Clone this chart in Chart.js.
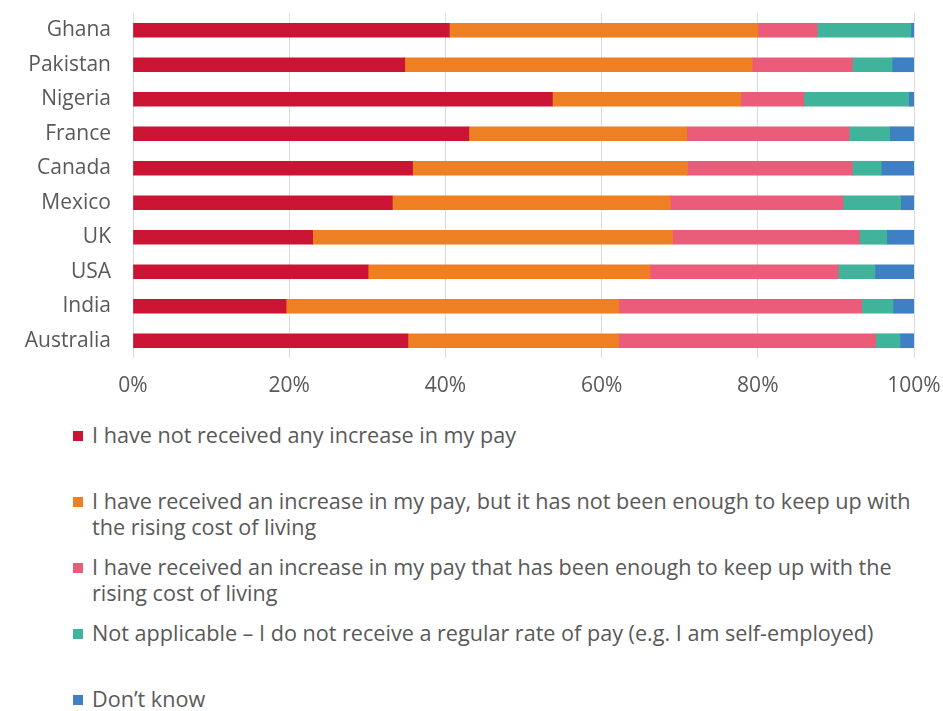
<!DOCTYPE html>
<html>
<head>
<meta charset="utf-8">
<script src="https://cdn.jsdelivr.net/npm/chart.js@4"></script>
<style>
    body { margin: 0; background: #fff; font-family: "Open Sans", sans-serif; }
    #wrap { position: relative; width: 943px; height: 403px; }
    #legendList { list-style: none; margin: 19px 0 0 0; padding: 0 0 0 73px; }
    #legendList li { display: flex; align-items: flex-start; height: 66px; }
    #legendList .box { flex: none; width: 10px; height: 10px; margin: 9px 9px 0 0; }
    #legendList .txt { width: 850px; font-size: 21.6px; line-height: 26px; color: #595959; white-space: pre-line; }
</style>
</head>
<body>
<div id="wrap"><canvas id="payChart"></canvas></div>
<ul id="legendList"></ul>
<script>
// Share of respondents per answer, by country (%)
var countries = ['Ghana', 'Pakistan', 'Nigeria', 'France', 'Canada', 'Mexico', 'UK', 'USA', 'India', 'Australia'];
var noIncrease = [40.5, 34.8, 53.7, 43.0, 35.8, 33.2, 23.0, 30.1, 19.6, 35.2];
var notEnough = [39.5, 44.5, 24.1, 27.9, 35.2, 35.6, 46.1, 36.1, 42.6, 27.0];
var enough = [7.6, 12.8, 8.1, 20.8, 21.1, 22.1, 23.9, 24.1, 31.1, 32.9];
var notApplicable = [12.0, 5.1, 13.4, 5.2, 3.7, 7.4, 3.5, 4.7, 4.0, 3.1];
var dontKnow = [0.4, 2.8, 0.7, 3.1, 4.2, 1.7, 3.5, 5.0, 2.7, 1.8];
var xTicks = [0, 20, 40, 60, 80, 100];

// legend labels, one array entry per printed line
var seriesLabels = [
    ['I have not received any increase in my pay'],
    ['I have received an increase in my pay, but it has not been enough to keep up with', 'the rising cost of living'],
    ['I have received an increase in my pay that has been enough to keep up with the', 'rising cost of living'],
    ['Not applicable \u2013 I do not receive a regular rate of pay (e.g. I am self-employed)'],
    ['Don\u2019t know']
];
var seriesColors = ['#CB1333', '#EE7F22', '#EA5C79', '#40B49A', '#3F7FC3'];

// Legend is built as HTML so the long labels can wrap
var htmlLegendPlugin = {
    id: 'htmlLegend',
    afterUpdate: function (chart) {
        var ul = document.getElementById('legendList');
        ul.innerHTML = '';
        var items = chart.options.plugins.legend.labels.generateLabels(chart);
        items.forEach(function (item) {
            var li = document.createElement('li');
            var box = document.createElement('span');
            box.className = 'box';
            box.style.background = item.fillStyle;
            var txt = document.createElement('span');
            txt.className = 'txt';
            txt.textContent = [].concat(item.text).join('\n');
            li.appendChild(box);
            li.appendChild(txt);
            ul.appendChild(li);
        });
    }
};

document.addEventListener('DOMContentLoaded', function () {
    var ctx = document.getElementById('payChart').getContext('2d');
    var values = [noIncrease, notEnough, enough, notApplicable, dontKnow];

    new Chart(ctx, {
        type: 'bar',
        data: {
            labels: countries,
            datasets: values.map(function (arr, i) {
                return {
                    label: seriesLabels[i],
                    data: arr,
                    backgroundColor: seriesColors[i],
                    barThickness: 14
                };
            })
        },
        options: {
            indexAxis: 'y',
            responsive: true,
            maintainAspectRatio: false,
            animation: false,
            layout: { padding: { top: 13, right: 29, left: 0, bottom: 0 } },
            scales: {
                x: {
                    stacked: true,
                    min: 0,
                    max: 100,
                    afterBuildTicks: function (scale) {
                        scale.ticks = xTicks.map(function (v) { return { value: v }; });
                    },
                    afterFit: function (scale) {
                        scale.height = 45;
                        scale.paddingLeft = 0;
                        scale.paddingRight = 0;
                    },
                    grid: { color: '#dcdcdc', drawTicks: false },
                    border: { display: false },
                    ticks: {
                        padding: 15,
                        color: '#595959',
                        font: { family: 'Open Sans', size: 21 },
                        callback: function (v) { return v + '%'; }
                    }
                },
                y: {
                    stacked: true,
                    afterFit: function (scale) {
                        scale.width = 133;
                        scale.paddingTop = 0;
                        scale.paddingBottom = 0;
                    },
                    grid: { display: false, drawTicks: false },
                    border: { display: false },
                    ticks: {
                        padding: 22,
                        color: '#595959',
                        font: { family: 'Open Sans', size: 21 }
                    }
                }
            },
            plugins: {
                legend: { display: false },
                tooltip: { enabled: false }
            }
        },
        plugins: [htmlLegendPlugin]
    });
});
</script>
</body>
</html>
